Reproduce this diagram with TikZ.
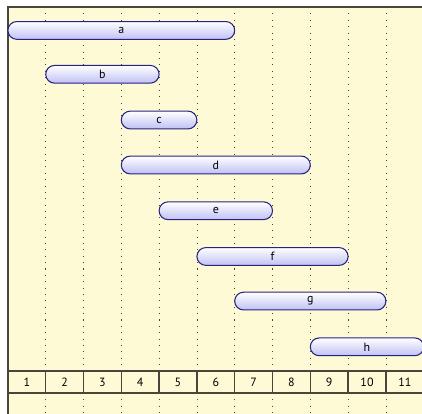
\documentclass[tikz,border=0pt]{standalone}
\usepackage{fontspec}
\setmainfont{PT Sans}
\usepackage{tikz}
\usetikzlibrary{shapes.misc}
\definecolor{paper}{RGB}{255,250,214}
\definecolor{barline}{RGB}{36,36,128}
\definecolor{barfill}{RGB}{192,192,244}
\definecolor{gridgray}{RGB}{72,70,60}
\tikzset{
  job/.style      = {rounded rectangle, draw=barline, line width=0.8pt, top color=white, bottom color=barfill,
                     minimum height=0.47cm, inner sep=0pt, font=\small},
  slot/.style     = {draw=gridgray, dash pattern=on 0.8pt off 4pt, line width=0.6pt},
  rule/.style     = {draw=gridgray, line width=1.1pt},
  tick/.style     = {font=\small, inner sep=0pt},
}

\begin{document}
\begin{tikzpicture}
    \useasboundingbox (-0.209,0.185) rectangle (10.955,-10.767);
    % ── Paper and frame ─────────────────────────────────────────
    \fill[paper] (0,0) rectangle (10.955,-10.767);
    \draw[rule] (0,-10.767) -- (0,0) -- (10.955,0);

    % ── Time slots (dotted) ─────────────────────────────────────
    \foreach \t in {1,...,10} {
      \draw[slot] (\t,0) -- (\t,-9.63);
      \draw[slot] (\t,-10.21) -- (\t,-10.767);
    }

    % ── Time axis ───────────────────────────────────────────────
    \draw[rule] (0,-9.63) -- (10.955,-9.63);
    \draw[rule] (0,-10.21) -- (10.955,-10.21);
    \foreach \t in {1,...,10}
      \draw[rule] (\t,-9.63) -- (\t,-10.21);
    \foreach \t in {1,...,11}
      \node[tick] (t\t) at (\t-0.5,-9.92) {\t};

    % ── Jobs ────────────────────────────────────────────────────
    \node[job, minimum width=6cm] (a) at (3.0,-0.62) {a};
    \node[job, minimum width=3cm] (b) at (2.5,-1.78) {b};
    \node[job, minimum width=2cm] (c) at (4.0,-2.99) {c};
    \node[job, minimum width=5cm] (d) at (5.5,-4.18) {d};
    \node[job, minimum width=3cm] (e) at (5.5,-5.39) {e};
    \node[job, minimum width=4cm] (f) at (7.0,-6.60) {f};
    \node[job, minimum width=4cm] (g) at (8.0,-7.78) {g};
    \node[job, minimum width=3cm] (h) at (9.5,-8.99) {h};
\end{tikzpicture}
\end{document}
